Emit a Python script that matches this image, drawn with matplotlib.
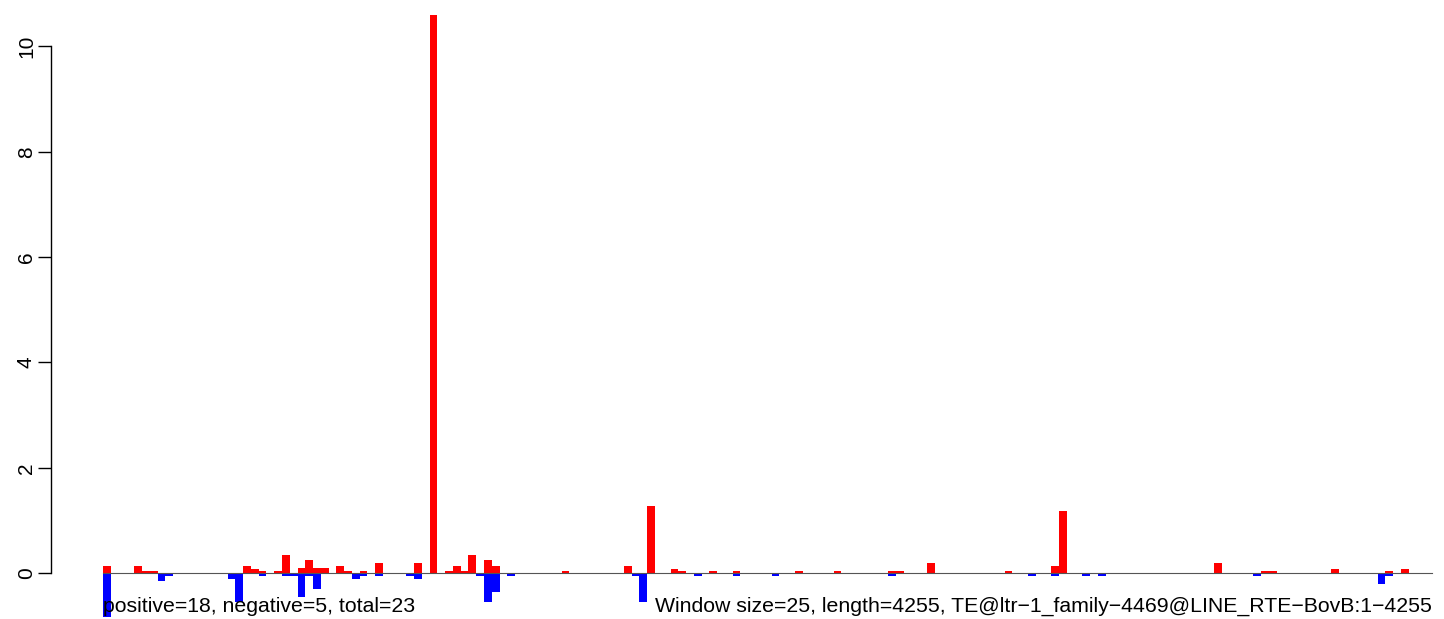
import matplotlib
matplotlib.use("Agg")
import matplotlib.pyplot as plt
import numpy as np

plt.rcParams["font.family"] = ["Liberation Sans", "DejaVu Sans"]

# window index (25 bp windows) and score
n_windows = 171
pos_idx = [0, 4, 5, 6, 18, 19, 20, 22, 23, 25, 26, 27, 28, 30, 31, 33, 35, 40, 42,
           44, 45, 46, 47, 49, 50, 59, 67, 70, 73, 74, 78, 81, 89, 94, 101, 102,
           106, 116, 122, 123, 143, 149, 150, 158, 165, 167]
pos_val = [0.14, 0.14, 0.05, 0.05, 0.14, 0.09, 0.05, 0.05, 0.34, 0.10, 0.25, 0.10,
           0.10, 0.14, 0.05, 0.05, 0.20, 0.20, 10.59, 0.05, 0.14, 0.05, 0.35, 0.25,
           0.14, 0.05, 0.14, 1.28, 0.09, 0.05, 0.05, 0.05, 0.05, 0.05, 0.05, 0.05,
           0.20, 0.05, 0.14, 1.18, 0.20, 0.05, 0.05, 0.09, 0.05, 0.09]
neg_idx = [0, 7, 8, 16, 17, 20, 23, 24, 25, 26, 27, 32, 33, 35, 39, 40, 48, 49, 50,
           52, 68, 69, 76, 81, 86, 101, 119, 122, 126, 128, 148, 164, 165]
neg_val = [-0.82, -0.14, -0.05, -0.10, -0.55, -0.05, -0.05, -0.05, -0.45, -0.05,
           -0.29, -0.10, -0.05, -0.05, -0.05, -0.10, -0.05, -0.54, -0.35, -0.05,
           -0.05, -0.54, -0.05, -0.05, -0.05, -0.05, -0.05, -0.05, -0.05, -0.05,
           -0.05, -0.20, -0.05]
y_ticks = [0, 2, 4, 6, 8, 10]

left_text = "positive=18, negative=5, total=23"
right_text = "Window size=25, length=4255, TE@ltr\u22121_family\u22124469@LINE_RTE\u2212BovB:1\u22124255"

W, H = 1444, 619
fig = plt.figure(figsize=(W / 100, H / 100), dpi=100)
ax = fig.add_axes([0, 0, 1, 1])

# pixel layout of the original: window 0 starts at x=103.3, 7.77 px per window,
# y=0 at 573.3 px, 52.7 px per unit
x0_px, dx_px = 103.3, 7.77
y0_px, dy_px = 573.3, 52.7
ax.set_xlim(-x0_px / dx_px, (W - x0_px) / dx_px)
ax.set_ylim((y0_px - H) / dy_px, y0_px / dy_px)

ax.bar(pos_idx, pos_val, width=1, align="edge", color="#FF0000", linewidth=0)
ax.bar(neg_idx, neg_val, width=1, align="edge", color="#0000FF", linewidth=0)
ax.plot([0, n_windows], [0, 0], color="#555555", lw=0.8)

for s in ["top", "right", "bottom"]:
    ax.spines[s].set_visible(False)
ax.spines["left"].set_position(("data", (50.7 - x0_px) / dx_px))
ax.spines["left"].set_bounds(0, 10)
ax.spines["left"].set_linewidth(1.0)
ax.set_xticks([])
ax.set_yticks(y_ticks)
ax.set_yticklabels([str(t) for t in y_ticks], rotation=90, va="center")
ax.tick_params(axis="y", length=9.4, width=1.0, pad=1.2, labelsize=15)

y_txt = (y0_px - 612) / dy_px
ax.text(0, y_txt, left_text, ha="left", va="baseline", fontsize=15.3)
ax.text(n_windows, y_txt, right_text, ha="right", va="baseline", fontsize=15.3)

fig.savefig("out.png", dpi=100)
